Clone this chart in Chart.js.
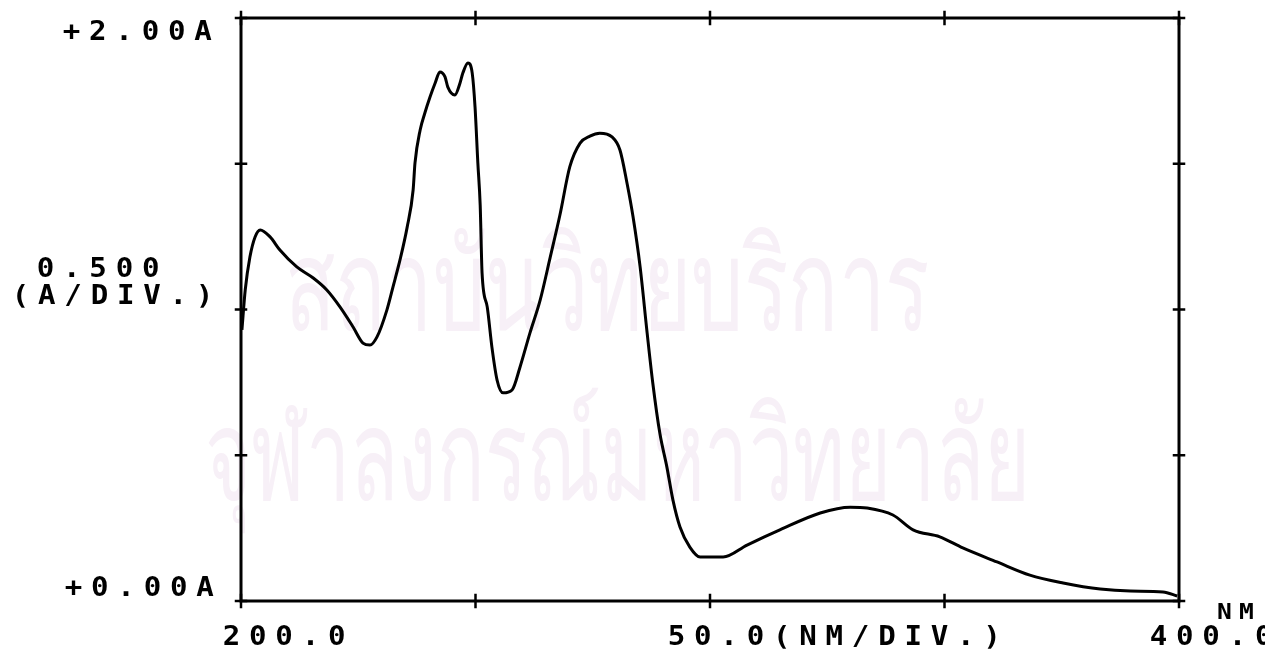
<!DOCTYPE html>
<html>
<head>
<meta charset="utf-8">
<script src="https://cdn.jsdelivr.net/npm/chart.js@4/dist/chart.umd.min.js"></script>
<style>
html,body{margin:0;padding:0;background:#fff;overflow:hidden;}
#wrap{position:relative;width:1265px;height:657px;}
canvas{display:block;}
</style>
</head>
<body>
<div id="wrap"><canvas id="c" width="1265" height="657"></canvas></div>
<script>
// ---- data (wavelength in nm, absorbance in A) ----
const wavelengths = [200.2,200.9,201.9,203.0,204.1,206.2,208.3,211.9,215.4,218.3,221.1,223.9,226.0,227.5,229.0,231.1,232.4,233.9,235.4,236.7,237.1,238.2,239.2,240.3,241.4,242.4,243.5,244.1,245.6,246.7,247.3,248.4,249.3,249.9,250.5,251.0,251.4,252.5,253.5,254.6,255.9,257.8,259.5,261.6,263.8,265.9,268.0,270.1,272.3,274.4,276.5,279.1,280.8,282.3,283.6,285.1,286.6,287.8,289.3,290.8,292.1,293.6,295.7,297.9,302.8,307.9,314.9,323.5,329.9,333.5,339.0,343.3,349.0,353.9,361.2,368.2,375.3,383.2,389.6,396.6,399.6];
const absorbance  = [0.930,1.067,1.180,1.249,1.273,1.249,1.204,1.146,1.108,1.067,1.009,0.940,0.885,0.878,0.906,0.998,1.077,1.170,1.280,1.410,1.503,1.616,1.674,1.729,1.777,1.815,1.798,1.763,1.736,1.777,1.811,1.846,1.811,1.695,1.503,1.358,1.125,1.009,0.871,0.758,0.714,0.724,0.803,0.919,1.033,1.177,1.324,1.489,1.571,1.595,1.605,1.592,1.547,1.434,1.317,1.146,0.919,0.748,0.576,0.460,0.346,0.254,0.185,0.151,0.151,0.192,0.244,0.302,0.322,0.319,0.295,0.244,0.220,0.182,0.134,0.089,0.062,0.041,0.034,0.031,0.017];
const xTicks = [200, 250, 300, 350, 400];
const yTicks = [0, 0.5, 1.0, 1.5, 2.0];
const yTopLabel = "+2.00A";
const yBottomLabel = "+0.00A";
const yScaleLabel = ["0.500", "(A/DIV.)"];
const xLeftLabel = "200.0";
const xMidLabel = "50.0(NM/DIV.)";
const xRightLabel = "400.0";
const xUnitLabel = "NM";
const watermark = ["สถาบันวิทยบริการ", "จุฬาลงกรณ์มหาวิทยาลัย"];

const points = wavelengths.map((w, i) => ({x: w, y: absorbance[i]}));

function spaced(ctx, text, left, yc, pitch, glyphW) {
  ctx.textAlign = 'center';
  ctx.textBaseline = 'middle';
  for (let i = 0; i < text.length; i++) {
    ctx.save();
    ctx.translate(left + i * pitch + glyphW / 2, yc);
    ctx.scale(1.12, 1);
    ctx.fillText(text[i], 0, 0);
    ctx.restore();
  }
}

function fitText(ctx, text, left, baseline, width) {
  const w = ctx.measureText(text).width;
  ctx.save();
  ctx.translate(left, baseline);
  ctx.scale(width / w, 1);
  ctx.fillText(text, 0, 0);
  ctx.restore();
}

const watermarkPlugin = {
  id: 'wm',
  beforeDatasetsDraw(chart) {
    const ctx = chart.ctx;
    ctx.save();
    ctx.fillStyle = '#f7f0f7';
    ctx.textAlign = 'left';
    ctx.textBaseline = 'alphabetic';
    ctx.font = '128px "Noto Sans", "DejaVu Sans", sans-serif';
    fitText(ctx, watermark[0], 285, 330, 645);
    fitText(ctx, watermark[1], 205, 500, 825);
    ctx.restore();
  }
};

const framePlugin = {
  id: 'frame',
  afterDatasetsDraw(chart) {
    const ctx = chart.ctx;
    const xs = chart.scales.x, ys = chart.scales.y;
    const L = xs.getPixelForValue(200), R = xs.getPixelForValue(400);
    const T = ys.getPixelForValue(2), B = ys.getPixelForValue(0);
    ctx.save();
    ctx.strokeStyle = '#000';
    ctx.lineWidth = 3;
    ctx.lineCap = 'square';
    ctx.strokeRect(L, T, R - L, B - T);
    ctx.lineWidth = 2.5;
    ctx.beginPath();
    yTicks.forEach(v => {
      const y = ys.getPixelForValue(v);
      ctx.moveTo(L - 5, y); ctx.lineTo(L + 5, y);
      ctx.moveTo(R - 5, y); ctx.lineTo(R + 5, y);
    });
    xTicks.forEach(v => {
      const x = xs.getPixelForValue(v);
      ctx.moveTo(x, B - 6); ctx.lineTo(x, B + 6);
      ctx.moveTo(x, T - 6); ctx.lineTo(x, T + 6);
    });
    ctx.stroke();

    ctx.fillStyle = '#000';
    ctx.font = 'bold 26px "DejaVu Sans Mono", "Liberation Mono", monospace';
    const P = 26.3, G = 17;
    spaced(ctx, yTopLabel, 63, 33, P, G);
    spaced(ctx, yScaleLabel[0], 37, 270, P, G);
    spaced(ctx, yScaleLabel[1], 12, 297, P, G);
    spaced(ctx, yBottomLabel, 65, 589, P, G);
    spaced(ctx, xLeftLabel, 223, 638, P, G);
    spaced(ctx, xMidLabel, 668, 638, P, G);
    spaced(ctx, xRightLabel, 1150, 638, P, G);
    ctx.font = 'bold 22px "DejaVu Sans Mono", "Liberation Mono", monospace';
    spaced(ctx, xUnitLabel, 1217, 613, 22, 15);
    ctx.restore();
  }
};

new Chart(document.getElementById('c'), {
  type: 'line',
  data: {
    datasets: [{
      data: points,
      borderColor: '#000',
      borderWidth: 3,
      pointRadius: 0,
      fill: false,
      cubicInterpolationMode: 'monotone'
    }]
  },
  options: {
    responsive: false,
    animation: false,
    events: [],
    layout: {padding: {left: 241, right: 86, top: 18, bottom: 56}},
    plugins: {legend: {display: false}, tooltip: {enabled: false}},
    scales: {
      x: {type: 'linear', min: 200, max: 400, display: false},
      y: {type: 'linear', min: 0, max: 2, display: false}
    }
  },
  plugins: [watermarkPlugin, framePlugin]
});
</script>
</body>
</html>
